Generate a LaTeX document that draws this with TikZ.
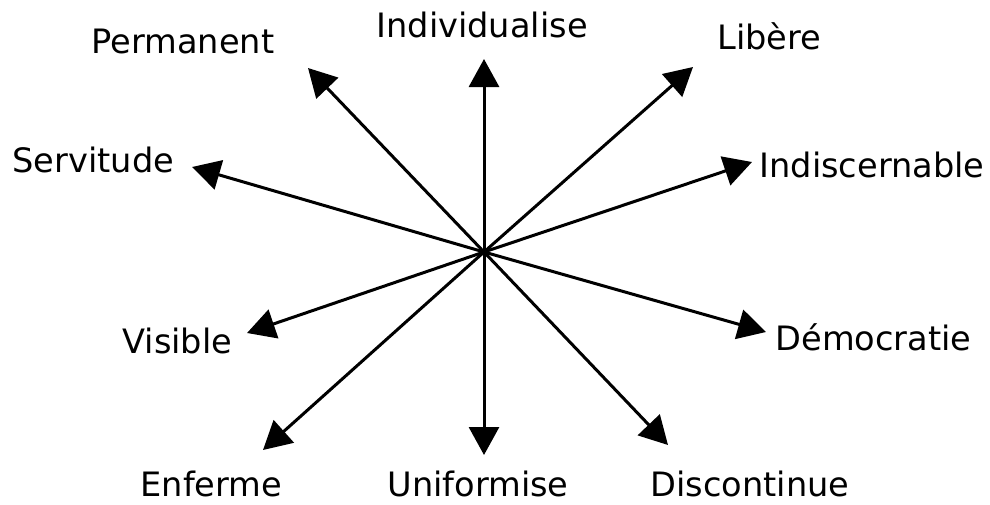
\documentclass[tikz,border=0pt]{standalone}
\usepackage{fontspec}
\setmainfont{DejaVu Sans}
\usetikzlibrary{arrows.meta}
\begin{document}
\begin{tikzpicture}[x=0.5pt, y=-0.5pt, line width=1.5pt, -{Triangle[length=14pt,width=15pt]},
  lbl/.style={anchor=base west, inner sep=0pt, font=\fontsize{16.8}{20}\selectfont}]
  \useasboundingbox (0,0) rectangle (990,504);
  \coordinate (c) at (484,252);
  % tips
  \coordinate (tInd) at (484,59);
  \coordinate (tUni) at (484,455);
  \coordinate (tPer) at (308,68);
  \coordinate (tLib) at (693,67);
  \coordinate (tSer) at (192,167);
  \coordinate (tDis) at (752,162);
  \coordinate (tVis) at (247,333);
  \coordinate (tDem) at (766,332);
  \coordinate (tEnf) at (263,450);
  \coordinate (tCon) at (668,445);
  % labels
  \node[lbl] (Ind) at (375,37) {Individualise};
  \node[lbl] (Uni) at (386,496) {Uniformise};
  \node[lbl] (Per) at (90,53) {Permanent};
  \node[lbl] (Lib) at (716,49) {Libère};
  \node[lbl] (Ser) at (11,172) {Servitude};
  \node[lbl] (Dis) at (758,177) {Indiscernable};
  \node[lbl] (Vis) at (121,353) {Visible};
  \node[lbl] (Dem) at (774,350) {Démocratie};
  \node[lbl] (Enf) at (139,496) {Enferme};
  \node[lbl] (Con) at (649,496) {Discontinue};
  % arrows
  \foreach \t in {Ind,Uni,Per,Lib,Ser,Dis,Vis,Dem,Enf,Con}
    \draw (c) -- (t\t);
\end{tikzpicture}
\end{document}
